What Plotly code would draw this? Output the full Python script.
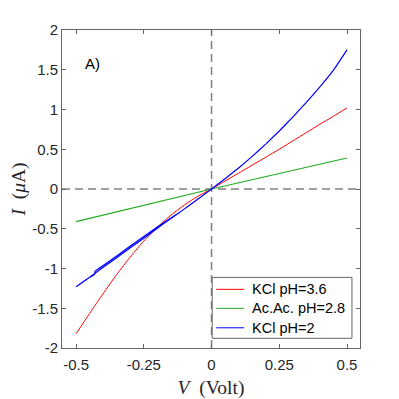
import plotly.graph_objects as go

# Voltage sweep points (V)
v_red = [-0.5, -0.45, -0.4, -0.35, -0.3, -0.25, -0.2, -0.15, -0.1, -0.05, 0.0,
         0.05, 0.1, 0.15, 0.2, 0.25, 0.3, 0.35, 0.4, 0.45, 0.5]
i_red = [-1.82, -1.565, -1.315, -1.075, -0.855, -0.655, -0.48, -0.33, -0.20, -0.09, 0.0,
         0.10, 0.20, 0.30, 0.40, 0.50, 0.605, 0.71, 0.815, 0.915, 1.02]

v_green = [-0.5, -0.25, 0.0, 0.25, 0.5]
i_green = [-0.41, -0.205, 0.0, 0.195, 0.39]

# blue: forward sweep then return sweep (small hysteresis on the negative side)
v_blue = [-0.5, -0.45, -0.4, -0.35, -0.3, -0.25, -0.2, -0.15, -0.1, -0.05, 0.0,
          0.05, 0.1, 0.15, 0.2, 0.25, 0.3, 0.35, 0.4, 0.45, 0.5,
          0.45, 0.4, 0.35, 0.3, 0.25, 0.2, 0.15, 0.1, 0.05, 0.0,
          -0.05, -0.1, -0.15, -0.2, -0.25, -0.3, -0.35, -0.4, -0.43, -0.432, -0.45, -0.5]
i_blue = [-1.23, -1.11, -0.985, -0.865, -0.74, -0.62, -0.495, -0.37, -0.25, -0.125, 0.0,
          0.13, 0.265, 0.41, 0.565, 0.73, 0.905, 1.09, 1.285, 1.495, 1.75,
          1.495, 1.285, 1.09, 0.905, 0.73, 0.565, 0.41, 0.265, 0.13, 0.0,
          -0.125, -0.25, -0.365, -0.478, -0.598, -0.718, -0.842, -0.962, -1.035, -1.075, -1.11, -1.23]

series_names = ["KCl pH=3.6", "Ac.Ac. pH=2.8", "KCl pH=2"]
series_colors = ["#ff0000", "#22aa22", "#0000ff"]

x_ticks = [-0.5, -0.25, 0, 0.25, 0.5]
x_tick_text = ["-0.5", "-0.25", "0", "0.25", "0.5"]
y_ticks = [-2, -1.5, -1, -0.5, 0, 0.5, 1, 1.5, 2]
y_tick_text = ["-2", "-1.5", "-1", "-0.5", "0", "0.5", "1", "1.5", "2"]

fig = go.Figure()
fig.add_trace(go.Scatter(x=v_red, y=i_red, mode="lines", name=series_names[0],
                         line=dict(color=series_colors[0], width=1, shape="spline", smoothing=0.6)))
fig.add_trace(go.Scatter(x=v_green, y=i_green, mode="lines", name=series_names[1],
                         line=dict(color=series_colors[1], width=1.2)))
fig.add_trace(go.Scatter(x=v_blue, y=i_blue, mode="lines", name=series_names[2],
                         line=dict(color=series_colors[2], width=1.2, shape="spline", smoothing=0.4)))

dash_style = dict(color="#808080", width=1.5, dash="8px,5px")
fig.add_shape(type="line", xref="x", yref="paper", x0=0, x1=0, y0=0, y1=1,
              line=dash_style, layer="below")
fig.add_shape(type="line", xref="paper", yref="y", x0=0, x1=1, y0=0, y1=0,
              line=dash_style, layer="below")

# legend box (MATLAB style, drawn in paper coordinates)
fig.add_shape(type="rect", xref="paper", yref="paper", x0=0.504, x1=0.973, y0=0.0305, y1=0.222,
              line=dict(color="#666666", width=1), fillcolor="white", layer="above")
legend_rows = [0.1845, 0.1248, 0.0635]
for name, color, yy in zip(series_names, series_colors, legend_rows):
    fig.add_shape(type="line", xref="paper", yref="paper", x0=0.5176, x1=0.6114, y0=yy, y1=yy,
                  line=dict(color=color, width=1), layer="above")
    fig.add_annotation(x=0.6325, y=yy, xref="paper", yref="paper", text=name,
                       showarrow=False, xanchor="left", yanchor="middle",
                       font=dict(family="Liberation Sans", size=14.5, color="black"))

fig.add_annotation(x=0.072, y=0.895, xref="paper", yref="paper", text="A)",
                   showarrow=False, xanchor="left", yanchor="middle",
                   font=dict(family="Liberation Sans", size=15, color="black"))

axis_common = dict(showline=True, linecolor="#666666", linewidth=1, mirror="ticks",
                   ticks="inside", ticklen=4, tickcolor="#666666", showgrid=False,
                   zeroline=False, automargin=False,
                   tickfont=dict(family="Liberation Sans", size=15, color="#262626"))

fig.update_xaxes(range=[-0.552, 0.548], tickvals=x_ticks, ticktext=x_tick_text,
                 ticklabelstandoff=3,
                 title=dict(text="<i>V</i>  (Volt)", standoff=13,
                            font=dict(family="Liberation Serif", size=19.5, color="#262626")),
                 **axis_common)
fig.update_yaxes(range=[-2, 2], tickvals=y_ticks, ticktext=y_tick_text,
                 title=dict(text="<i>I</i>  (<i>μ</i>A)", standoff=12,
                            font=dict(family="Liberation Serif", size=19.5, color="#262626")),
                 **axis_common)

fig.update_layout(
    width=391, height=391,
    margin=dict(l=53.5, r=39, t=21.5, b=51.3),
    plot_bgcolor="white", paper_bgcolor="white",
    showlegend=False,
)

fig.write_html("out.html")
